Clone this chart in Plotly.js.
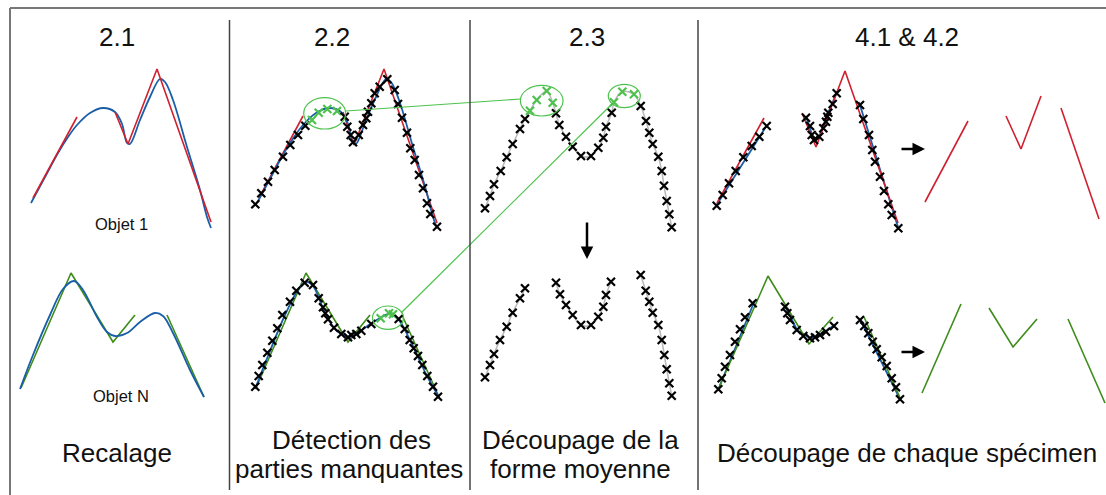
<!DOCTYPE html>
<html><head><meta charset="utf-8">
<script src="https://cdn.plot.ly/plotly-3.0.1.min.js"></script>
<style>html,body{margin:0;padding:0;background:#fff}#c{width:1106px;height:495px}</style>
</head><body><div id="c"></div>
<script>
// ---- Panel 2.1 ----
const red21X=[33,77,null,115,128,157,211], red21Y=[198,117,null,112,144,69,222];
const blue21X=[31,45,58,68,77,90,103,115,122,127,130,140,150,160,165,173,187,200,207,211];
const blue21Y=[203,177,153,137,125,113,108,112,124,143,144,120,97,79,82,100,147,190,217,228];
const green21X=[21,71,113,135,null,167,204], green21Y=[388,273,342,315,null,315,397];
const blueN21X=[20,33,50,63,74,83,97,107,115,127,140,155,163,173,190,204];
const blueN21Y=[389,355,315,289,281,290,317,332,336,333,322,313,316,333,370,397];
// ---- Panel 2.2 ----
const red22X=[259,303,null,343,354,384,437], red22Y=[198,116,null,112,145,69,223];
const blue22X=[257,271,284,294,303,316,329,341,348,353,356,366,376,386,391,399,413,426,433,437];
const blue22Y=[203,177,153,137,125,113,108,112,124,143,144,120,97,79,82,100,147,190,217,228];
const mk22tX=[255.3,261.3,268,274.7,283,290.3,298,305.3,312,318.7,327.3,337,344.7,347.3,350.7,353,358.7,363,366.3,368,371.3,374.7,379.7,387.3,394.7,398,402,407,410.3,414.7,419,423,427,430.3,437];
const mk22tY=[204.3,193.3,181.7,170,156.7,145,135,125.7,120,112.7,109,111,116.7,126.7,135,142.3,135,125,118.3,111.7,103.3,93.3,86.7,79.3,90,104,117.7,132.7,148.3,160,175,188.3,203.3,214,226.7];
const mk22tG=[0,0,0,0,0,0,0,0,1,1,1,1,0,0,0,0,0,0,0,0,0,0,0,0,0,0,0,0,0,0,0,0,0,0,0];
const green22X=[256,306,348,370,null,402,439], green22Y=[388,273,342,315,null,315,397];
const blue22bX=[255,268,285,298,306,313,325,334,341,348,356,366,380,389,398,410,427,439];
const blue22bY=[389,356,315,290,282,286,313,328,334,337,334,327,318,314,319,340,376,397];
const mk22bX=[255.3,258.7,262.3,267.3,272.3,277.3,282.3,290,296.3,304.7,313,318.7,323,325.3,328,334,341.3,348,351.3,356.3,361.3,371.3,380.7,389,393,398.7,404.7,409.7,413.7,418,422.3,427.3,433,438];
const mk22bY=[386.7,376,365,352.7,340.7,328.3,315,301.7,290.7,282.7,285,298.3,307.3,313.3,319.3,327.7,334,337.3,335,334,330.7,324,318.3,313.3,314.3,319,329,340,348.3,356,365,376,386.7,396.7];
const mk22bG=[0,0,0,0,0,0,0,0,0,0,0,0,0,0,0,0,0,0,0,0,0,0,1,1,1,0,0,0,0,0,0,0,0,0];
// ---- Panel 2.3 ----
const mean23tX=[485,490,494,500.7,506.7,512.7,520,525,530,536.7,546.7,552.7,556,559.3,566,572.7,581,591,598.3,603.3,606,611.7,614,622.3,634,640.7,646,649.3,652.7,658.3,661.7,664,666.7,669.3,671.7];
const mean23tY=[208.3,196,184.3,171,157.3,144,129,119,110.7,100,91,102.7,113.3,125,136.7,146.7,156,156,147.7,137.7,126.7,112.7,102.3,91.7,94.3,106,121,132.7,144,156.7,171,185.7,201,214.3,227.3];
const mean23tG=[0,0,0,0,0,0,0,0,1,1,1,1,0,0,0,0,0,0,0,0,0,0,1,1,1,0,0,0,0,0,0,0,0,0,0];
const mean23bX=[485,490,494,500,506.7,512.7,520,525,null,556,560,566,572.7,581,591,598.3,603.3,606,611,null,640.7,645.7,649.3,652.7,658.3,661.7,664.3,666.7,669.3,671.7];
const mean23bY=[377.3,365,354,340,326.7,312.7,298.3,288.3,null,282.7,294.3,305,315,325,325,316.7,306.7,295,281.7,null,275,290.7,301.7,312.7,325,340,355,369.3,383.3,395.7];
// ---- Panel 4.1 & 4.2 ----
const red41X=[717,764,null,802,816,845,898], red41Y=[203,118,null,113,147,71,223];
const blue41tX=[716,767,null,806,811,814,819,828,838,null,859,898];
const blue41tY=[206,125,null,116,133,141,137,113,90,null,102,227];
const mk41tX=[716.7,722.7,729,735.7,743.3,751.7,759.3,766.7,806,810,811.7,814,819.3,823.3,826,827.3,828.3,832.7,836.7,860,863.3,869,872.3,875,880,884,888.3,891.7,898.3];
const mk41tY=[205.7,195,183.3,171,157.3,146,136.7,126,117.7,126,135,140,136.7,128.3,121.7,116.7,112.7,104,93.3,105,119,135,150,161.7,176.7,191,204.3,215,228.3];
const green41X=[718,768,809,833,null,864,901], green41Y=[390,276,344,317,null,317,400];
const blue41bX=[718,755,null,785,797,810,820,836,null,860,900];
const blue41bY=[390,300,null,306,330,338,335,324,null,319,399];
const mk41bX=[718.3,721.7,725,730,735,740,745,752.7,785,787.3,790,796.7,803.3,810,815,820,826,834,860,864.3,868.3,872.7,876.7,881.7,886.7,891.7,896,900];
const mk41bY=[389.3,378.3,366.7,355,341.7,329.3,317.3,303.3,306.7,313.3,320,330,336,338.3,337.3,335,331.7,326,320,326,333.3,341.7,349.3,357.3,366,378.3,387.3,399.3];
const redRX=[925,968,null,1006,1021,1041,null,1061,1099], redRY=[202,121,null,116,149,96,null,108,219];
const greenRX=[922,961,null,989,1013,1037,null,1068,1105], greenRY=[393,304,null,308,347,319,null,319,403];
// ---- connectors / highlights ----
const connX=[346,521,null,401,614], connY=[111,99,null,313,102];
const ellCX=[324.7,388,541.7,624.3], ellCY=[113.3,317.7,100.7,96], ellRX=[21,15.5,21.3,16], ellRY=[15.7,11.7,15.3,11.7];
// ---- texts ----
const titles=["2.1","2.2","2.3","4.1 &amp; 4.2"], titleX=[117,332,587,907];
const objLabels=["Objet 1","Objet N"];

const RED='#d0202f', BLUE='#1a5ea8', GREEN='#3d8c1a', LG='#4cc24c', GRAY='#b8b8b8';
const ln=(x,y,c,w,shape)=>({x,y,type:'scatter',mode:'lines',line:{color:c,width:w,shape:shape||'linear'},hoverinfo:'skip',connectgaps:false});
const mk=(x,y,g)=>({x,y,type:'scatter',mode:'markers',hoverinfo:'skip',
  marker:{symbol:'x-thin',size:8,color:'#000',line:{width:2.2,color:g?g.map(v=>v?LG:'#000'):'#000'}}});

const data=[
  ln(blue21X,blue21Y,BLUE,1.8,'spline'), ln(red21X,red21Y,RED,1.6),
  ln(green21X,green21Y,GREEN,1.6), ln(blueN21X,blueN21Y,BLUE,1.8,'spline'),
  ln(red22X,red22Y,RED,1.6), ln(blue22X,blue22Y,BLUE,1.8,'spline'), mk(mk22tX,mk22tY,mk22tG),
  ln(green22X,green22Y,GREEN,1.6), ln(blue22bX,blue22bY,BLUE,1.8,'spline'), mk(mk22bX,mk22bY,mk22bG),
  ln(mean23tX,mean23tY,GRAY,1.5,'spline'), mk(mean23tX,mean23tY,mean23tG),
  ln(mean23bX,mean23bY,GRAY,1.5,'spline'), mk(mean23bX,mean23bY),
  ln(blue41tX,blue41tY,BLUE,1.8), ln(red41X,red41Y,RED,1.6), mk(mk41tX,mk41tY),
  ln(blue41bX,blue41bY,BLUE,1.8), ln(green41X,green41Y,GREEN,1.6), mk(mk41bX,mk41bY),
  ln(redRX,redRY,RED,1.6), ln(greenRX,greenRY,GREEN,1.6),
  ln(connX,connY,LG,1.2)
];

const F='"Liberation Sans", Arial, Helvetica, sans-serif';
const shapes=[
  {type:'line',xref:'x',yref:'y',x0:10,x1:1110,y0:8,y1:8,line:{color:'#777',width:2}},
  {type:'line',xref:'x',yref:'y',x0:10,x1:10,y0:8,y1:500,line:{color:'#777',width:2}},
  {type:'line',xref:'x',yref:'y',x0:229.5,x1:229.5,y0:20,y1:490,line:{color:'#444',width:1.5}},
  {type:'line',xref:'x',yref:'y',x0:470,x1:470,y0:20,y1:490,line:{color:'#444',width:1.5}},
  {type:'line',xref:'x',yref:'y',x0:698,x1:698,y0:20,y1:490,line:{color:'#444',width:1.5}}
];
ellCX.forEach((cx,i)=>shapes.push({type:'circle',xref:'x',yref:'y',x0:cx-ellRX[i],x1:cx+ellRX[i],y0:ellCY[i]-ellRY[i],y1:ellCY[i]+ellRY[i],line:{color:LG,width:1.2}}));

const ann=[];
titles.forEach((t,i)=>ann.push({x:titleX[i],y:37,text:t,showarrow:false,xanchor:'center',yanchor:'middle',font:{family:F,size:26,color:'#111'}}));
ann.push({x:121,y:224,text:objLabels[0],showarrow:false,font:{family:F,size:16.5,color:'#111'}});
ann.push({x:121,y:396,text:objLabels[1],showarrow:false,font:{family:F,size:16.5,color:'#111'}});
const bl=[["Recalage",117,453],["Détection des",351,440],["parties manquantes",349,469],["Découpage de la",580,440],["forme moyenne",580,469],["Découpage de chaque spécimen",907,453]];
bl.forEach(b=>ann.push({x:b[1],y:b[2],text:b[0],showarrow:false,xanchor:'center',yanchor:'middle',font:{family:F,size:26,color:'#111'}}));
const arrows=[[900,149,925,149],[900,352,925,352],[587,221,587,259]];
arrows.forEach(a=>ann.push({x:a[2],y:a[3],ax:a[0],ay:a[1],axref:'x',ayref:'y',xref:'x',yref:'y',text:'',showarrow:true,arrowhead:2,arrowsize:1,arrowwidth:2.5,arrowcolor:'#000'}));

Plotly.newPlot('c',data,{
  width:1106,height:495,margin:{l:0,r:0,t:0,b:0},paper_bgcolor:'#fff',plot_bgcolor:'#fff',showlegend:false,
  xaxis:{range:[0,1106],visible:false,fixedrange:true},
  yaxis:{range:[495,0],visible:false,fixedrange:true},
  shapes,annotations:ann
},{staticPlot:true});
</script></body></html>
